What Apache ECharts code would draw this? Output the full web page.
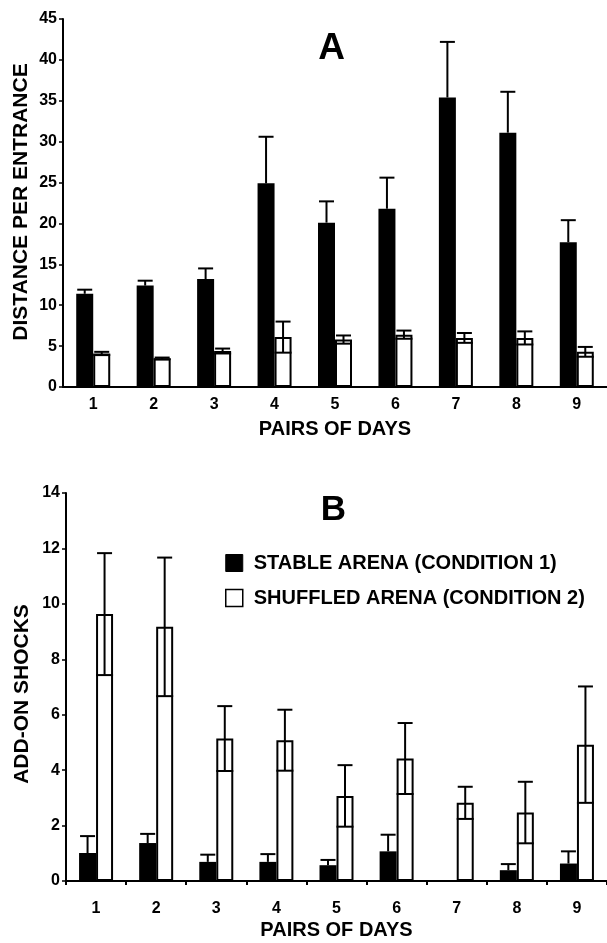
<!DOCTYPE html>
<html>
<head>
<meta charset="utf-8">
<script src="https://cdn.jsdelivr.net/npm/echarts@6/dist/echarts.min.js"></script>
<style>
html,body{margin:0;padding:0;background:#fff;}
#chart{width:607px;height:943px;}
</style>
</head>
<body>
<div id="chart"></div>
<script>
const categories = ['1','2','3','4','5','6','7','8','9'];

// Panel A: distance per entrance
const distStable = [11.4, 12.4, 13.2, 24.9, 20.1, 21.8, 35.4, 31.1, 17.7];
const distStableErr = [0.5, 0.6, 1.3, 5.7, 2.6, 3.8, 6.8, 5.0, 2.7];
const distShuffled = [4.1, 3.5, 4.4, 6.1, 5.8, 6.4, 6.0, 6.0, 4.3];
const distShuffledErr = [0.2, 0.1, 0.3, 1.9, 0.5, 0.5, 0.6, 0.8, 0.6];

// Panel B: add-on shocks
const shockStable = [1.01, 1.37, 0.69, 0.69, 0.57, 1.07, 0, 0.39, 0.63];
const shockStableErr = [0.61, 0.33, 0.26, 0.28, 0.19, 0.60, 0, 0.22, 0.44];
const shockShuffled = [9.63, 9.17, 5.14, 5.08, 3.07, 4.42, 2.82, 2.47, 4.92];
const shockShuffledErr = [2.2, 2.5, 1.17, 1.1, 1.11, 1.28, 0.58, 1.11, 2.1];

const yTicksA = [0, 45, 5];
const yTicksB = [0, 14, 2];

const legendStable = 'STABLE ARENA (CONDITION 1)';
const legendShuffled = 'SHUFFLED ARENA (CONDITION 2)';

const FONT = '"Liberation Sans", Arial, Helvetica, sans-serif';
const BW = 17;

function errRenderer(offset, twoSided) {
  return function (params, api) {
    const i = api.value(0), m = api.value(1), e = api.value(2);
    if (!e) return null;
    const c = api.coord([i, m]);
    const x = c[0] + offset;
    const top = api.coord([i, m + e])[1];
    const bot = twoSided ? api.coord([i, m - e])[1] : c[1];
    const st = { stroke: '#000', lineWidth: 2 };
    const children = [
      { type: 'line', shape: { x1: x, y1: bot, x2: x, y2: top }, style: st },
      { type: 'line', shape: { x1: x - 7.5, y1: top, x2: x + 7.5, y2: top }, style: st }
    ];
    if (twoSided) {
      children.push({ type: 'line', shape: { x1: x - BW / 2, y1: bot, x2: x + BW / 2, y2: bot }, style: st });
    }
    return { type: 'group', children: children };
  };
}

function toTriples(vals, errs) { return vals.map((v, i) => [i, v, errs[i]]); }

const axisLineStyle = { lineStyle: { color: '#000', width: 2 } };
const labelStyle = { color: '#000', fontSize: 16, fontWeight: 'bold', fontFamily: FONT };

const chart = echarts.init(document.getElementById('chart'), null, { renderer: 'canvas' });
chart.setOption({
  animation: false,
  backgroundColor: '#fff',
  textStyle: { fontFamily: FONT, color: '#000' },
  grid: [
    { left: 63, top: 19, width: 544, height: 368 },
    { left: 66, top: 493, width: 541, height: 388 }
  ],
  xAxis: [
    {
      gridIndex: 0, type: 'category', data: categories,
      axisLine: axisLineStyle, axisTick: { show: false },
      axisLabel: Object.assign({ margin: 10 }, labelStyle),
      name: 'PAIRS OF DAYS', nameLocation: 'middle', nameGap: 32,
      nameTextStyle: { fontSize: 20, fontWeight: 'bold', color: '#000', fontFamily: FONT }
    },
    {
      gridIndex: 1, type: 'category', data: categories,
      axisLine: axisLineStyle,
      axisTick: { show: true, length: 4, lineStyle: { color: '#000', width: 2 } },
      axisLabel: Object.assign({ margin: 20 }, labelStyle),
      name: 'PAIRS OF DAYS', nameLocation: 'middle', nameGap: 39,
      nameTextStyle: { fontSize: 20, fontWeight: 'bold', color: '#000', fontFamily: FONT }
    }
  ],
  yAxis: [
    {
      gridIndex: 0, type: 'value', min: yTicksA[0], max: yTicksA[1], interval: yTicksA[2],
      axisLine: { show: true, lineStyle: { color: '#000', width: 2 } },
      axisTick: { show: true, length: 4, lineStyle: { color: '#000', width: 1.5 } },
      axisLabel: Object.assign({ margin: 6 }, labelStyle),
      splitLine: { show: false }
    },
    {
      gridIndex: 1, type: 'value', min: yTicksB[0], max: yTicksB[1], interval: yTicksB[2],
      axisLine: { show: true, lineStyle: { color: '#000', width: 2 } },
      axisTick: { show: true, length: 4, lineStyle: { color: '#000', width: 1.5 } },
      axisLabel: Object.assign({ margin: 6 }, labelStyle),
      splitLine: { show: false }
    }
  ],
  legend: {
    data: [
      { name: legendStable, icon: 'rect', itemStyle: { color: '#000', borderColor: '#000', borderWidth: 1 } },
      { name: legendShuffled, icon: 'rect', itemStyle: { color: '#fff', borderColor: '#000', borderWidth: 1.5 } }
    ],
    orient: 'vertical', left: 220, top: 548,
    itemWidth: 17, itemHeight: 17, itemGap: 15,
    selectedMode: false,
    textStyle: { fontSize: 20, fontWeight: 'bold', color: '#000', fontFamily: FONT, padding: [0, 0, 0, 6] }
  },
  graphic: [
    { type: 'text', x: 331.5, y: 49, style: { text: 'A', fontSize: 37, fontWeight: 'bold', fontFamily: FONT, fill: '#000', align: 'center', verticalAlign: 'middle' } },
    { type: 'text', x: 333.5, y: 510, style: { text: 'B', fontSize: 35, fontWeight: 'bold', fontFamily: FONT, fill: '#000', align: 'center', verticalAlign: 'middle' } },
    { type: 'text', x: 21.5, y: 202, rotation: Math.PI / 2, style: { text: 'DISTANCE PER ENTRANCE', fontSize: 21, fontWeight: 'bold', fontFamily: FONT, fill: '#000', align: 'center', verticalAlign: 'middle' } },
    { type: 'text', x: 22, y: 694, rotation: Math.PI / 2, style: { text: 'ADD-ON SHOCKS', fontSize: 21, fontWeight: 'bold', fontFamily: FONT, fill: '#000', align: 'center', verticalAlign: 'middle' } }
  ],
  series: [
    { name: 'A stable', type: 'bar', xAxisIndex: 0, yAxisIndex: 0, data: distStable, barWidth: BW, barGap: '0%',
      itemStyle: { color: '#000' } },
    { name: 'A shuffled', type: 'bar', xAxisIndex: 0, yAxisIndex: 0, data: distShuffled, barWidth: BW, barGap: '0%',
      itemStyle: { color: '#fff', borderColor: '#000', borderWidth: 2 } },
    { name: 'A stable err', type: 'custom', xAxisIndex: 0, yAxisIndex: 0, data: toTriples(distStable, distStableErr),
      encode: { x: 0, y: 1 }, renderItem: errRenderer(-BW / 2, false), z: 5 },
    { name: 'A shuffled err', type: 'custom', xAxisIndex: 0, yAxisIndex: 0, data: toTriples(distShuffled, distShuffledErr),
      encode: { x: 0, y: 1 }, renderItem: errRenderer(BW / 2, true), z: 5 },

    { name: legendStable, type: 'bar', xAxisIndex: 1, yAxisIndex: 1, data: shockStable, barWidth: BW, barGap: '0%',
      itemStyle: { color: '#000' } },
    { name: legendShuffled, type: 'bar', xAxisIndex: 1, yAxisIndex: 1, data: shockShuffled, barWidth: BW, barGap: '0%',
      itemStyle: { color: '#fff', borderColor: '#000', borderWidth: 2 } },
    { name: 'B stable err', type: 'custom', xAxisIndex: 1, yAxisIndex: 1, data: toTriples(shockStable, shockStableErr),
      encode: { x: 0, y: 1 }, renderItem: errRenderer(-BW / 2, false), z: 5 },
    { name: 'B shuffled err', type: 'custom', xAxisIndex: 1, yAxisIndex: 1, data: toTriples(shockShuffled, shockShuffledErr),
      encode: { x: 0, y: 1 }, renderItem: errRenderer(BW / 2, true), z: 5 }
  ]
});
</script>
</body>
</html>
